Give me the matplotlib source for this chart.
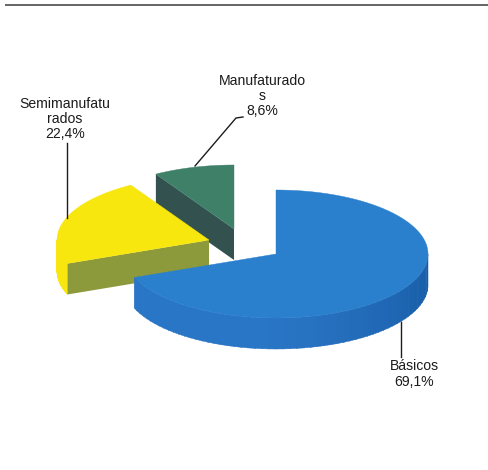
import numpy as np
import matplotlib
matplotlib.use("Agg")
import matplotlib.pyplot as plt
from matplotlib.colors import to_rgb

plt.rcParams['font.family'] = ['Liberation Sans', 'DejaVu Sans']

categories = ["Básicos", "Semimanufatu\nrados", "Manufaturado\ns"]
values = [69.1, 22.4, 8.6]
value_labels = ["69,1%", "22,4%", "8,6%"]

top_colors = ["#2b80cd", "#f7e70f", "#3f8069"]
cut_colors = ["#1f6cb9", "#8d9a3c", "#33524f"]
rim_light = ["#2a76c6", "#f7e70f", "#3f8069"]
rim_dark = ["#175ca6", "#f7e70f", "#3f8069"]

RX, RY, DEPTH = 152, 64, 31
centers = [(276, 254), (209, 240), (234, 229)]
label_pos = [(414, 374), (65, 119), (262, 96)]
leaders = [
    [(401, 322), (401, 357)],
    [(67, 218), (67, 143)],
    [(195, 166), (236, 118), (243, 117)],
]

fig = plt.figure(figsize=(4.89, 4.70), dpi=100)
ax = fig.add_axes([0, 0, 1, 1])
ax.set_xlim(0, 489)
ax.set_ylim(470, 0)
ax.axis("off")

ax.plot([5, 489], [4.5, 4.5], color="#3a3a3a", lw=1.1, solid_capstyle="butt", zorder=1)


def rim(c, a):
    """Clockwise angle from 12 o'clock (degrees) -> pixel point on top ellipse."""
    a = np.radians(a)
    return c[0] + RX * np.sin(a), c[1] - RY * np.cos(a)


def draw_cut(i, a, z):
    c = centers[i]
    px, py = rim(c, a)
    ax.fill([c[0], px, px, c[0]], [c[1], py, py + DEPTH, c[1] + DEPTH],
            color=cut_colors[i], lw=0, zorder=z)


def draw_slice(i, start, end, z):
    c = centers[i]
    xs, ys = rim(c, np.linspace(start, end, 200))
    lo, hi = max(start, 90), min(end, 270)
    if hi > lo:
        edges = np.linspace(lo, hi, 61)
        c0, c1 = np.array(to_rgb(rim_dark[i])), np.array(to_rgb(rim_light[i]))
        for k in range(len(edges) - 1):
            sx, sy = rim(c, np.linspace(edges[k], edges[k + 1] + 0.4, 5))
            t = min(1, k / 35)
            ax.fill(np.r_[sx, sx[::-1]], np.r_[sy, sy[::-1] + DEPTH],
                    color=c0 + (c1 - c0) * t, lw=0.3, zorder=z)
    ax.fill(np.r_[c[0], xs], np.r_[c[1], ys], color=top_colors[i], lw=0.3, zorder=z + 0.2)


total = sum(values)
fractions = [v / total * 360 for v in values]
ends = np.cumsum(fractions)
starts = np.r_[0, ends[:-1]]
z_order = [6, 4, 2]

for i in range(3):
    draw_slice(i, starts[i], ends[i], z_order[i])
draw_cut(1, starts[1], z_order[1] + 0.1)
draw_cut(2, starts[2], z_order[2] + 0.1)

for i, (cat, val) in enumerate(zip(categories, value_labels)):
    ax.text(label_pos[i][0], label_pos[i][1], f"{cat}\n{val}", ha="center", va="center",
            fontsize=10.1, color="#1c1c1c", linespacing=1.12, zorder=10)
    pts = np.array(leaders[i])
    ax.plot(pts[:, 0], pts[:, 1], color="#1c1c1c", lw=1.0, zorder=9)

fig.savefig("out.png", dpi=100, facecolor="white")
